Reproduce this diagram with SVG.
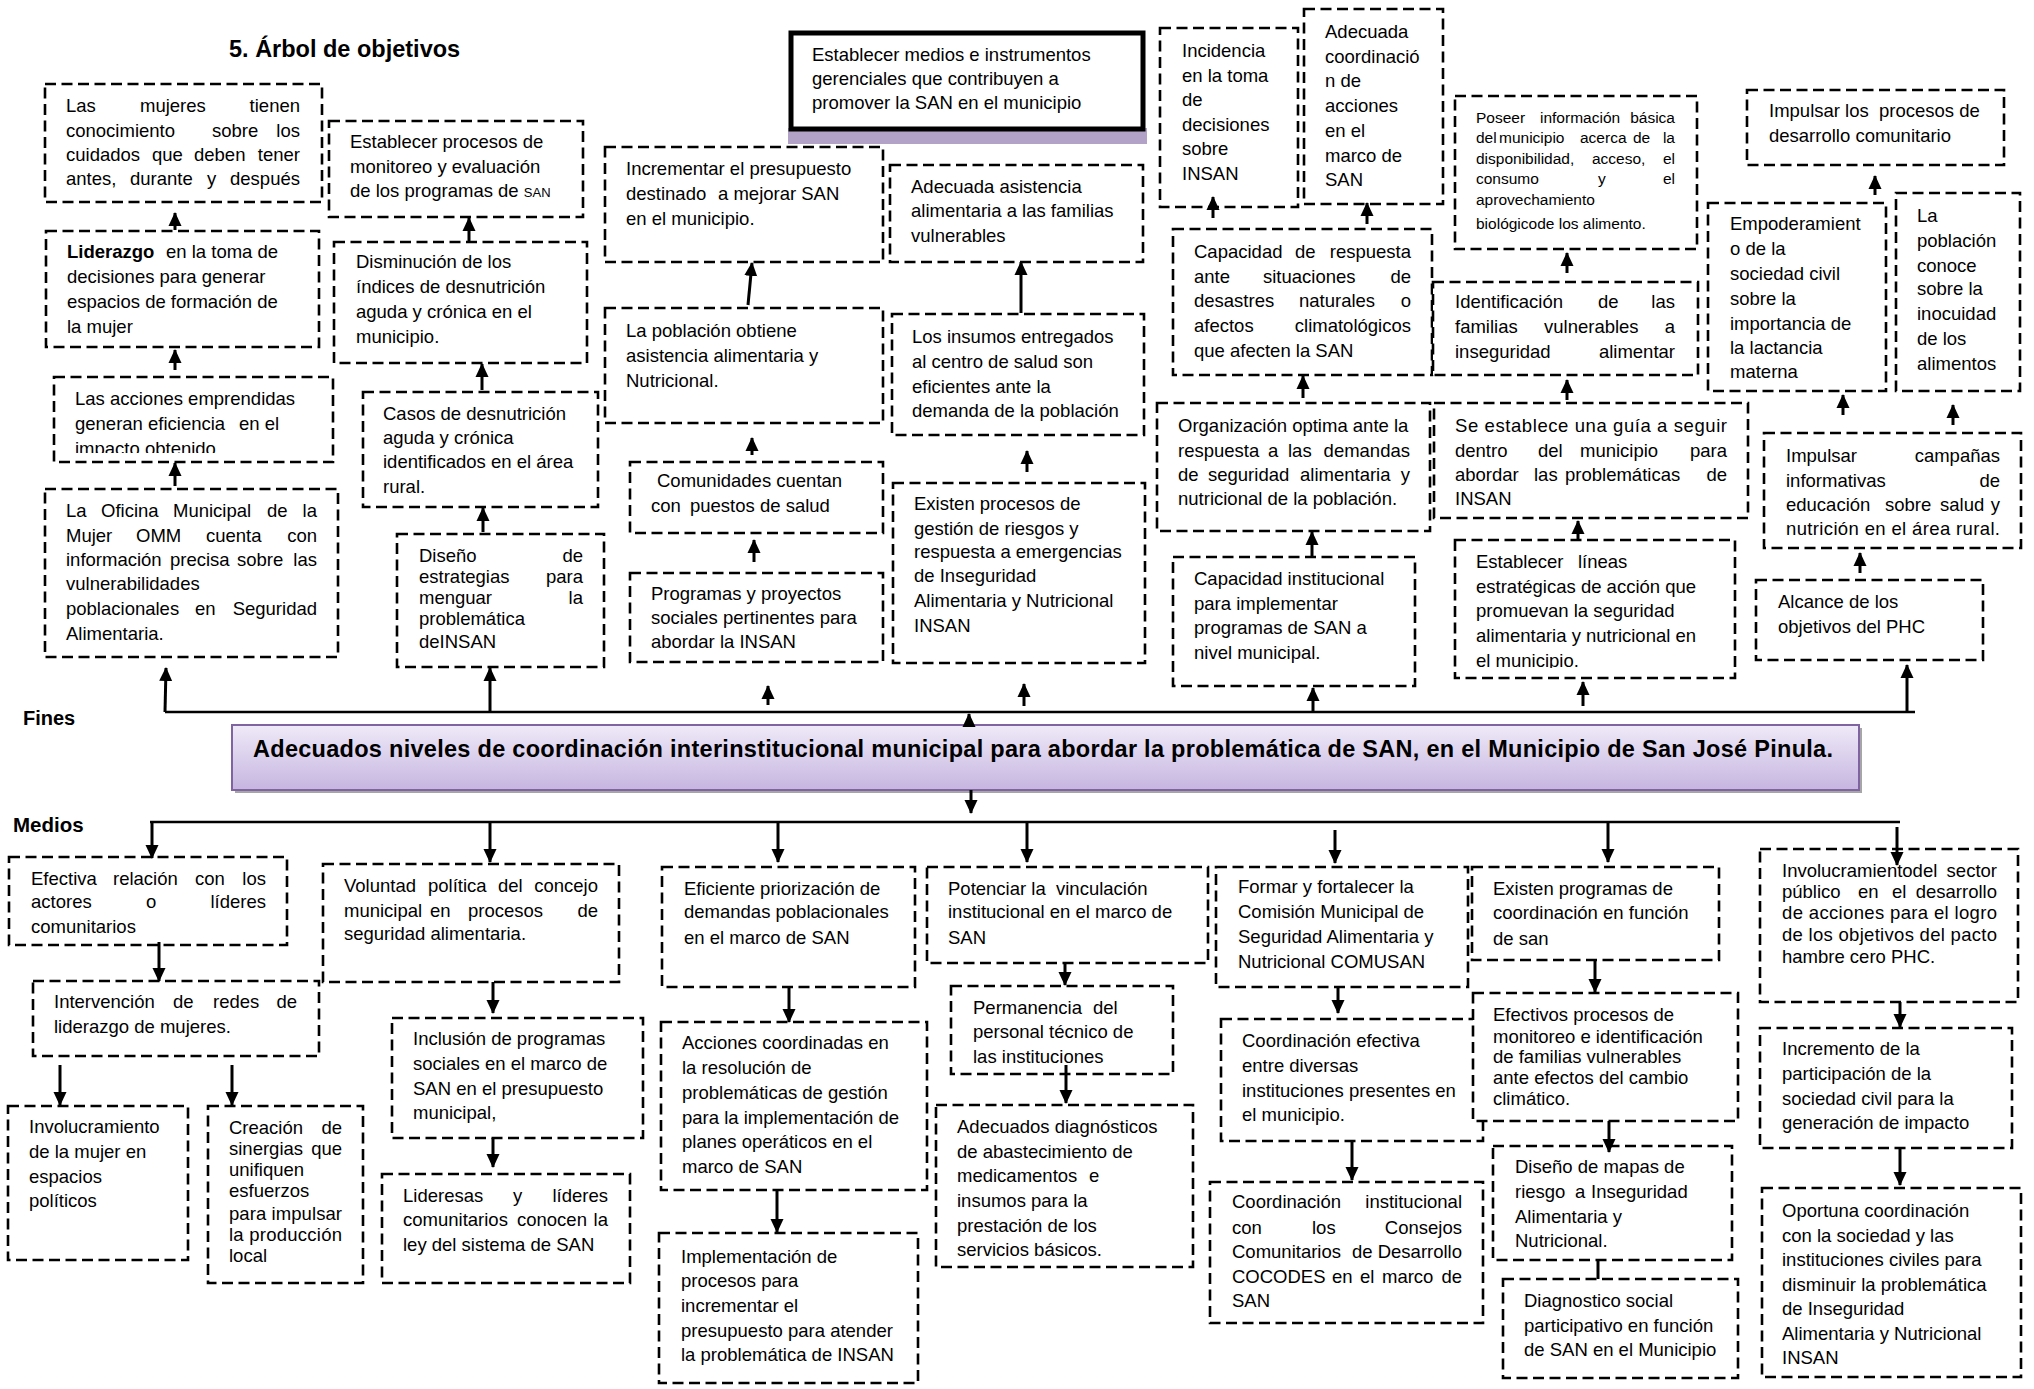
<svg xmlns="http://www.w3.org/2000/svg" width="2034" height="1389" viewBox="0 0 2034 1389">
<defs>
<style>
.b{fill:#fff;stroke:#000;stroke-width:2.6;stroke-dasharray:11 5.5}
.t{font-family:"Liberation Sans",Arial,sans-serif;font-size:18.5px;fill:#000}
.s{font-size:15.5px}
.e{text-anchor:end}
.bo{font-weight:bold}
.h{font-family:"Liberation Sans",Arial,sans-serif;font-weight:bold;fill:#000}
#conn line{stroke:#000;stroke-width:3;fill:none}
#conn .a{marker-end:url(#ah)}
#conn .hub{stroke-width:2.6}
</style>
<marker id="ah" markerUnits="userSpaceOnUse" markerWidth="14" markerHeight="14" refX="13" refY="7" orient="auto"><path d="M0,0.5 L14,7 L0,13.5 z" fill="#000"/></marker>
<linearGradient id="mg" x1="0" y1="0" x2="0" y2="1"><stop offset="0" stop-color="#efeaf8"/><stop offset="1" stop-color="#c6b5e0"/></linearGradient>
<clipPath id="clA3"><rect x="40" y="370" width="300" height="83"/></clipPath>
<clipPath id="clB25"><rect x="1450" y="535" width="290" height="133"/></clipPath>
</defs>
<rect width="2034" height="1389" fill="#fff"/>

<text class="h" x="229" y="57" font-size="23.5">5. Árbol de objetivos</text>
<text class="h" x="23" y="725" font-size="20">Fines</text>
<text class="h" x="13" y="832" font-size="20.5">Medios</text>

<g id="n-top">
<rect x="788" y="128" width="359" height="16" fill="#b3a2c7"/>
<rect x="791" y="33" width="352" height="96" fill="#fff" stroke="#000" stroke-width="5"/>
<text class="t"><tspan x="812" y="61">Establecer medios e instrumentos</tspan><tspan x="812" y="85">gerenciales que contribuyen  a</tspan><tspan x="812" y="109">promover la SAN en el municipio</tspan></text>
</g>

<g id="n-main">
<rect x="235" y="728" width="1627" height="65" fill="#a6a6a6"/>
<rect x="232" y="725" width="1627" height="65" fill="url(#mg)" stroke="#8064a2" stroke-width="2"/>
<text class="h" x="253" y="757" font-size="23.5" textLength="1580" lengthAdjust="spacing">Adecuados  niveles de coordinación interinstitucional municipal para abordar la problemática de SAN, en el Municipio de San José Pinula.</text>
</g>

<g id="n-a1"><rect class="b" x="45" y="84" width="277" height="118"/>
<text class="t"><tspan x="66" y="112">Las</tspan><tspan x="140">mujeres</tspan><tspan class="e" x="300">tienen</tspan><tspan x="66" y="137">conocimiento</tspan><tspan x="212">sobre</tspan><tspan class="e" x="300">los</tspan><tspan x="66" y="161">cuidados</tspan><tspan x="152">que</tspan><tspan x="194">deben</tspan><tspan class="e" x="300">tener</tspan><tspan x="66" y="185">antes,</tspan><tspan x="130">durante</tspan><tspan x="207">y</tspan><tspan class="e" x="300">después</tspan></text></g>

<g id="n-a2"><rect class="b" x="46" y="231" width="273" height="116"/>
<text class="t"><tspan x="67" y="258" class="bo">Liderazgo</tspan><tspan x="166">en la toma de</tspan><tspan x="67" y="283">decisiones para generar</tspan><tspan x="67" y="308">espacios de formación de</tspan><tspan x="67" y="333">la mujer</tspan></text></g>

<g id="n-a3"><rect class="b" x="54" y="377" width="279" height="85"/>
<text class="t" clip-path="url(#clA3)"><tspan x="75" y="405">Las acciones emprendidas</tspan><tspan x="75" y="430">generan eficiencia</tspan><tspan x="239">en el</tspan><tspan x="75" y="455">impacto obtenido</tspan></text></g>

<g id="n-a4"><rect class="b" x="45" y="489" width="293" height="168"/>
<text class="t"><tspan x="66" y="517">La</tspan><tspan x="101">Oficina</tspan><tspan x="173">Municipal</tspan><tspan x="267">de</tspan><tspan class="e" x="317">la</tspan><tspan x="66" y="542">Mujer</tspan><tspan x="136">OMM</tspan><tspan x="206">cuenta</tspan><tspan class="e" x="317">con</tspan><tspan x="66" y="566">información</tspan><tspan x="170">precisa</tspan><tspan x="237">sobre</tspan><tspan class="e" x="317">las</tspan><tspan x="66" y="590">vulnerabilidades</tspan><tspan x="66" y="615">poblacionales</tspan><tspan x="195">en</tspan><tspan class="e" x="317">Seguridad</tspan><tspan x="66" y="640">Alimentaria.</tspan></text></g>

<g id="n-b1"><rect class="b" x="329" y="121" width="254" height="96"/>
<text class="t"><tspan x="350" y="148">Establecer procesos de</tspan><tspan x="350" y="173">monitoreo y evaluación</tspan><tspan x="350" y="197">de los programas de <tspan font-size="13">SAN</tspan></tspan></text></g>

<g id="n-b2"><rect class="b" x="334" y="242" width="253" height="121"/>
<text class="t"><tspan x="356" y="268">Disminución de los</tspan><tspan x="356" y="293">índices de desnutrición</tspan><tspan x="356" y="318">aguda y crónica en el</tspan><tspan x="356" y="343">municipio.</tspan></text></g>

<g id="n-b3"><rect class="b" x="363" y="392" width="235" height="115"/>
<text class="t"><tspan x="383" y="420">Casos de desnutrición</tspan><tspan x="383" y="444">aguda y crónica</tspan><tspan x="383" y="468">identificados en el área</tspan><tspan x="383" y="493">rural.</tspan></text></g>

<g id="n-b4"><rect class="b" x="397" y="534" width="207" height="133"/>
<text class="t"><tspan x="419" y="562">Diseño</tspan><tspan class="e" x="583">de</tspan><tspan x="419" y="583">estrategias</tspan><tspan class="e" x="583">para</tspan><tspan x="419" y="604">menguar</tspan><tspan class="e" x="583">la</tspan><tspan x="419" y="625">problemática</tspan><tspan x="419" y="648">deINSAN</tspan></text></g>

<g id="n-b5"><rect class="b" x="630" y="462" width="253" height="71"/>
<text class="t"><tspan x="657" y="487">Comunidades cuentan</tspan><tspan x="651" y="512">con</tspan><tspan x="690">puestos de salud</tspan></text></g>

<g id="n-b6"><rect class="b" x="630" y="573" width="253" height="89"/>
<text class="t"><tspan x="651" y="600">Programas y proyectos</tspan><tspan x="651" y="624">sociales pertinentes para</tspan><tspan x="651" y="648">abordar la INSAN</tspan></text></g>

<g id="n-b7"><rect class="b" x="605" y="147" width="278" height="115"/>
<text class="t"><tspan x="626" y="175">Incrementar el presupuesto</tspan><tspan x="626" y="200">destinado</tspan><tspan x="718">a mejorar SAN</tspan><tspan x="626" y="225">en el municipio.</tspan></text></g>

<g id="n-b8"><rect class="b" x="605" y="308" width="278" height="115"/>
<text class="t"><tspan x="626" y="337">La población obtiene</tspan><tspan x="626" y="362">asistencia alimentaria y</tspan><tspan x="626" y="387">Nutricional.</tspan></text></g>

<g id="n-b9"><rect class="b" x="890" y="165" width="253" height="97"/>
<text class="t"><tspan x="911" y="193">Adecuada asistencia</tspan><tspan x="911" y="217">alimentaria a las familias</tspan><tspan x="911" y="242">vulnerables</tspan></text></g>

<g id="n-b10"><rect class="b" x="892" y="314" width="252" height="121"/>
<text class="t"><tspan x="912" y="343">Los insumos entregados</tspan><tspan x="912" y="368">al centro de salud son</tspan><tspan x="912" y="393">eficientes ante la</tspan><tspan x="912" y="417">demanda de la población</tspan></text></g>

<g id="n-b11"><rect class="b" x="1160" y="28" width="138" height="179"/>
<text class="t"><tspan x="1182" y="57">Incidencia</tspan><tspan x="1182" y="82">en la toma</tspan><tspan x="1182" y="106">de</tspan><tspan x="1182" y="131">decisiones</tspan><tspan x="1182" y="155">sobre</tspan><tspan x="1182" y="180">INSAN</tspan></text></g>

<g id="n-b12"><rect class="b" x="1304" y="9" width="139" height="195"/>
<text class="t"><tspan x="1325" y="38">Adecuada</tspan><tspan x="1325" y="63">coordinació</tspan><tspan x="1325" y="87">n de</tspan><tspan x="1325" y="112">acciones</tspan><tspan x="1325" y="137">en el</tspan><tspan x="1325" y="162">marco de</tspan><tspan x="1325" y="186">SAN</tspan></text></g>

<g id="n-b13"><rect class="b" x="1173" y="229" width="259" height="146"/>
<text class="t"><tspan x="1194" y="258">Capacidad</tspan><tspan x="1295">de</tspan><tspan class="e" x="1411">respuesta</tspan><tspan x="1194" y="283">ante</tspan><tspan x="1263">situaciones</tspan><tspan class="e" x="1411">de</tspan><tspan x="1194" y="307">desastres</tspan><tspan x="1299">naturales</tspan><tspan class="e" x="1411">o</tspan><tspan x="1194" y="332">afectos</tspan><tspan class="e" x="1411">climatológicos</tspan><tspan x="1194" y="357">que afecten la SAN</tspan></text></g>

<g id="n-b14"><rect class="b" x="1157" y="403" width="273" height="128"/>
<text class="t"><tspan x="1178" y="432">Organización optima ante la</tspan><tspan x="1178" y="457">respuesta</tspan><tspan x="1268">a</tspan><tspan x="1288">las</tspan><tspan class="e" x="1410">demandas</tspan><tspan x="1178" y="481">de</tspan><tspan x="1208">seguridad</tspan><tspan x="1300">alimentaria</tspan><tspan class="e" x="1410">y</tspan><tspan x="1178" y="505">nutricional de la población.</tspan></text></g>

<g id="n-b15"><rect class="b" x="1455" y="96" width="242" height="153"/>
<text class="t s"><tspan x="1476" y="122.5">Poseer</tspan><tspan x="1540">información</tspan><tspan class="e" x="1675">básica</tspan><tspan x="1476" y="143">del</tspan><tspan x="1499">municipio</tspan><tspan x="1580">acerca</tspan><tspan x="1633">de</tspan><tspan class="e" x="1675">la</tspan><tspan x="1476" y="163.5">disponibilidad,</tspan><tspan x="1592">acceso,</tspan><tspan class="e" x="1675">el</tspan><tspan x="1476" y="184">consumo</tspan><tspan x="1598">y</tspan><tspan class="e" x="1675">el</tspan><tspan x="1476" y="205">aprovechamiento</tspan><tspan x="1476" y="229">biológicode los alimento.</tspan></text></g>

<g id="n-b16"><rect class="b" x="1433" y="282" width="265" height="93"/>
<text class="t"><tspan x="1455" y="308">Identificación</tspan><tspan x="1598">de</tspan><tspan class="e" x="1675">las</tspan><tspan x="1455" y="333">familias</tspan><tspan x="1544">vulnerables</tspan><tspan class="e" x="1675">a</tspan><tspan x="1455" y="358">inseguridad</tspan><tspan class="e" x="1675">alimentar</tspan></text></g>

<g id="n-b17"><rect class="b" x="1434" y="403" width="314" height="115"/>
<text class="t" x="1455" y="432" textLength="272" lengthAdjust="spacing">Se establece una guía a seguir</text>
<text class="t"><tspan x="1455" y="457">dentro</tspan><tspan x="1538">del</tspan><tspan x="1580">municipio</tspan><tspan class="e" x="1727">para</tspan><tspan x="1455" y="481">abordar</tspan><tspan x="1534">las</tspan><tspan x="1565">problemáticas</tspan><tspan class="e" x="1727">de</tspan><tspan x="1455" y="505">INSAN</tspan></text></g>

<g id="n-b18"><rect class="b" x="1747" y="90" width="257" height="75"/>
<text class="t"><tspan x="1769" y="117">Impulsar los</tspan><tspan x="1879">procesos de</tspan><tspan x="1769" y="142">desarrollo comunitario</tspan></text></g>

<g id="n-b19"><rect class="b" x="1708" y="203" width="178" height="188"/>
<text class="t"><tspan x="1730" y="230">Empoderamient</tspan><tspan x="1730" y="255">o de la</tspan><tspan x="1730" y="280">sociedad civil</tspan><tspan x="1730" y="305">sobre la</tspan><tspan x="1730" y="330">importancia de</tspan><tspan x="1730" y="354">la lactancia</tspan><tspan x="1730" y="378">materna</tspan></text></g>

<g id="n-b20"><rect class="b" x="1896" y="193" width="124" height="198"/>
<text class="t"><tspan x="1917" y="222">La</tspan><tspan x="1917" y="247">población</tspan><tspan x="1917" y="272">conoce</tspan><tspan x="1917" y="295">sobre la</tspan><tspan x="1917" y="320">inocuidad</tspan><tspan x="1917" y="345">de los</tspan><tspan x="1917" y="370">alimentos</tspan></text></g>

<g id="n-b21"><rect class="b" x="1764" y="433" width="257" height="115"/>
<text class="t"><tspan x="1786" y="462">Impulsar</tspan><tspan class="e" x="2000">campañas</tspan><tspan x="1786" y="487">informativas</tspan><tspan class="e" x="2000">de</tspan><tspan x="1786" y="511">educación</tspan><tspan x="1885">sobre</tspan><tspan x="1940">salud</tspan><tspan class="e" x="2000">y</tspan></text>
<text class="t" x="1786" y="535" textLength="214" lengthAdjust="spacing">nutrición en el área rural.</text></g>

<g id="n-b22"><rect class="b" x="1756" y="580" width="227" height="80"/>
<text class="t"><tspan x="1778" y="608">Alcance de los</tspan><tspan x="1778" y="633">objetivos del PHC</tspan></text></g>

<g id="n-b23"><rect class="b" x="893" y="483" width="252" height="180"/>
<text class="t"><tspan x="914" y="510">Existen procesos de</tspan><tspan x="914" y="535">gestión de riesgos y</tspan><tspan x="914" y="558">respuesta a emergencias</tspan><tspan x="914" y="582">de Inseguridad</tspan><tspan x="914" y="607">Alimentaria y Nutricional</tspan><tspan x="914" y="632">INSAN</tspan></text></g>

<g id="n-b24"><rect class="b" x="1173" y="557" width="242" height="129"/>
<text class="t"><tspan x="1194" y="585">Capacidad institucional</tspan><tspan x="1194" y="610">para implementar</tspan><tspan x="1194" y="634">programas de SAN a</tspan><tspan x="1194" y="659">nivel municipal.</tspan></text></g>

<g id="n-b25"><rect class="b" x="1455" y="540" width="280" height="138"/>
<text class="t" clip-path="url(#clB25)"><tspan x="1476" y="568">Establecer</tspan><tspan x="1578">líneas</tspan><tspan x="1476" y="593">estratégicas de acción que</tspan><tspan x="1476" y="617">promuevan la seguridad</tspan><tspan x="1476" y="642">alimentaria y nutricional en</tspan><tspan x="1476" y="667">el municipio.</tspan></text></g>

<g id="n-c1"><rect class="b" x="9" y="857" width="278" height="88"/>
<text class="t"><tspan x="31" y="885">Efectiva</tspan><tspan x="113">relación</tspan><tspan x="195">con</tspan><tspan class="e" x="266">los</tspan><tspan x="31" y="908">actores</tspan><tspan x="146">o</tspan><tspan class="e" x="266">líderes</tspan><tspan x="31" y="933">comunitarios</tspan></text></g>

<g id="n-c2"><rect class="b" x="323" y="864" width="296" height="118"/>
<text class="t"><tspan x="344" y="892">Voluntad</tspan><tspan x="428">política</tspan><tspan x="498">del</tspan><tspan class="e" x="598">concejo</tspan><tspan x="344" y="917">municipal</tspan><tspan x="430">en</tspan><tspan x="468">procesos</tspan><tspan class="e" x="598">de</tspan><tspan x="344" y="940">seguridad alimentaria.</tspan></text></g>

<g id="n-c3"><rect class="b" x="662" y="867" width="253" height="120"/>
<text class="t"><tspan x="684" y="895">Eficiente priorización de</tspan><tspan x="684" y="918">demandas poblacionales</tspan><tspan x="684" y="944">en el marco de SAN</tspan></text></g>

<g id="n-c4"><rect class="b" x="927" y="867" width="281" height="96"/>
<text class="t"><tspan x="948" y="895">Potenciar la</tspan><tspan x="1056">vinculación</tspan><tspan x="948" y="918">institucional en el marco de</tspan><tspan x="948" y="944">SAN</tspan></text></g>

<g id="n-c5"><rect class="b" x="1216" y="867" width="252" height="120"/>
<text class="t"><tspan x="1238" y="893">Formar y fortalecer la</tspan><tspan x="1238" y="918">Comisión Municipal de</tspan><tspan x="1238" y="943">Seguridad Alimentaria y</tspan><tspan x="1238" y="968">Nutricional COMUSAN</tspan></text></g>

<g id="n-c6"><rect class="b" x="1472" y="867" width="247" height="93"/>
<text class="t"><tspan x="1493" y="895">Existen programas de</tspan><tspan x="1493" y="919">coordinación en función</tspan><tspan x="1493" y="945">de san</tspan></text></g>

<g id="n-c7"><rect class="b" x="1760" y="849" width="258" height="153"/>
<text class="t"><tspan x="1782" y="877">Involucramientodel</tspan><tspan class="e" x="1997">sector</tspan><tspan x="1782" y="898">público</tspan><tspan x="1858">en</tspan><tspan x="1892">el</tspan><tspan class="e" x="1997">desarrollo</tspan><tspan x="1782" y="963">hambre cero PHC.</tspan></text>
<text class="t" x="1782" y="919" textLength="215" lengthAdjust="spacing">de acciones para el logro</text>
<text class="t" x="1782" y="941" textLength="215" lengthAdjust="spacing">de los objetivos del pacto</text></g>

<g id="n-c8"><rect class="b" x="33" y="981" width="286" height="75"/>
<text class="t"><tspan x="54" y="1008">Intervención</tspan><tspan x="173">de</tspan><tspan x="213">redes</tspan><tspan class="e" x="297">de</tspan><tspan x="54" y="1033">liderazgo de mujeres.</tspan></text></g>

<g id="n-c9"><rect class="b" x="8" y="1106" width="180" height="154"/>
<text class="t"><tspan x="29" y="1133">Involucramiento</tspan><tspan x="29" y="1158">de la mujer en</tspan><tspan x="29" y="1183">espacios</tspan><tspan x="29" y="1207">políticos</tspan></text></g>

<g id="n-c10"><rect class="b" x="208" y="1106" width="155" height="177"/>
<text class="t"><tspan x="229" y="1134">Creación</tspan><tspan class="e" x="342">de</tspan><tspan x="229" y="1155">sinergias</tspan><tspan class="e" x="342">que</tspan><tspan x="229" y="1176">unifiquen</tspan><tspan x="229" y="1197">esfuerzos</tspan><tspan x="229" y="1262">local</tspan></text>
<text class="t" x="229" y="1220" textLength="113" lengthAdjust="spacing">para impulsar</text>
<text class="t" x="229" y="1241" textLength="113" lengthAdjust="spacing">la producción</text></g>

<g id="n-c11"><rect class="b" x="392" y="1018" width="251" height="120"/>
<text class="t"><tspan x="413" y="1045">Inclusión de programas</tspan><tspan x="413" y="1070">sociales en el marco de</tspan><tspan x="413" y="1095">SAN en el presupuesto</tspan><tspan x="413" y="1119">municipal,</tspan></text></g>

<g id="n-c12"><rect class="b" x="382" y="1174" width="248" height="109"/>
<text class="t"><tspan x="403" y="1202">Lideresas</tspan><tspan x="513">y</tspan><tspan class="e" x="608">líderes</tspan><tspan x="403" y="1226">comunitarios</tspan><tspan x="517">conocen</tspan><tspan class="e" x="608">la</tspan><tspan x="403" y="1251">ley del sistema de SAN</tspan></text></g>

<g id="n-c13"><rect class="b" x="661" y="1022" width="266" height="168"/>
<text class="t"><tspan x="682" y="1049">Acciones coordinadas en</tspan><tspan x="682" y="1074">la resolución de</tspan><tspan x="682" y="1099">problemáticas de gestión</tspan><tspan x="682" y="1124">para la implementación de</tspan><tspan x="682" y="1148">planes operáticos en el</tspan><tspan x="682" y="1173">marco de SAN</tspan></text></g>

<g id="n-c14"><rect class="b" x="659" y="1233" width="259" height="150"/>
<text class="t"><tspan x="681" y="1263">Implementación de</tspan><tspan x="681" y="1287">procesos para</tspan><tspan x="681" y="1312">incrementar el</tspan><tspan x="681" y="1337">presupuesto para atender</tspan><tspan x="681" y="1361">la problemática de INSAN</tspan></text></g>

<g id="n-c15"><rect class="b" x="951" y="986" width="222" height="88"/>
<text class="t"><tspan x="973" y="1014">Permanencia</tspan><tspan x="1093">del</tspan><tspan x="973" y="1038">personal técnico de</tspan><tspan x="973" y="1063">las instituciones</tspan></text></g>

<g id="n-c16"><rect class="b" x="936" y="1105" width="257" height="162"/>
<text class="t"><tspan x="957" y="1133">Adecuados diagnósticos</tspan><tspan x="957" y="1158">de abastecimiento de</tspan><tspan x="957" y="1182">medicamentos</tspan><tspan x="1089">e</tspan><tspan x="957" y="1207">insumos para la</tspan><tspan x="957" y="1232">prestación de los</tspan><tspan x="957" y="1256">servicios básicos.</tspan></text></g>

<g id="n-c17"><rect class="b" x="1221" y="1019" width="262" height="122"/>
<text class="t"><tspan x="1242" y="1047">Coordinación efectiva</tspan><tspan x="1242" y="1072">entre diversas</tspan><tspan x="1242" y="1097">instituciones presentes en</tspan><tspan x="1242" y="1121">el municipio.</tspan></text></g>

<g id="n-c18"><rect class="b" x="1210" y="1182" width="273" height="141"/>
<text class="t"><tspan x="1232" y="1208">Coordinación</tspan><tspan class="e" x="1462">institucional</tspan><tspan x="1232" y="1234">con</tspan><tspan x="1312">los</tspan><tspan class="e" x="1462">Consejos</tspan><tspan x="1232" y="1258">Comunitarios</tspan><tspan x="1352">de</tspan><tspan class="e" x="1462">Desarrollo</tspan><tspan x="1232" y="1283">COCODES</tspan><tspan x="1332">en</tspan><tspan x="1360">el</tspan><tspan x="1382">marco</tspan><tspan class="e" x="1462">de</tspan><tspan x="1232" y="1307">SAN</tspan></text></g>

<g id="n-c19"><rect class="b" x="1473" y="993" width="265" height="128"/>
<text class="t"><tspan x="1493" y="1021">Efectivos procesos de</tspan><tspan x="1493" y="1043">monitoreo e identificación</tspan><tspan x="1493" y="1063">de familias vulnerables</tspan><tspan x="1493" y="1084">ante efectos del cambio</tspan><tspan x="1493" y="1105">climático.</tspan></text></g>

<g id="n-c20"><rect class="b" x="1493" y="1146" width="239" height="114"/>
<text class="t"><tspan x="1515" y="1173">Diseño de mapas de</tspan><tspan x="1515" y="1198">riesgo</tspan><tspan x="1575">a</tspan><tspan x="1591">Inseguridad</tspan><tspan x="1515" y="1223">Alimentaria y</tspan><tspan x="1515" y="1247">Nutricional.</tspan></text></g>

<g id="n-c21"><rect class="b" x="1503" y="1279" width="235" height="99"/>
<text class="t"><tspan x="1524" y="1307">Diagnostico social</tspan><tspan x="1524" y="1332">participativo en función</tspan><tspan x="1524" y="1356">de SAN en el Municipio</tspan></text></g>

<g id="n-c22"><rect class="b" x="1760" y="1028" width="252" height="120"/>
<text class="t"><tspan x="1782" y="1055">Incremento de la</tspan><tspan x="1782" y="1080">participación de la</tspan><tspan x="1782" y="1105">sociedad civil para la</tspan><tspan x="1782" y="1129">generación de impacto</tspan></text></g>

<g id="n-c23"><rect class="b" x="1762" y="1188" width="259" height="189"/>
<text class="t"><tspan x="1782" y="1217">Oportuna coordinación</tspan><tspan x="1782" y="1242">con la sociedad y las</tspan><tspan x="1782" y="1266">instituciones civiles para</tspan><tspan x="1782" y="1291">disminuir la problemática</tspan><tspan x="1782" y="1315">de Inseguridad</tspan><tspan x="1782" y="1340">Alimentaria y Nutricional</tspan><tspan x="1782" y="1364">INSAN</tspan></text></g>

<g id="conn">
<line class="hub" x1="165" y1="712" x2="1915" y2="712"/>
<line class="hub" x1="150" y1="822" x2="1900" y2="822"/>
<line class="a" x1="175" y1="230" x2="175" y2="213"/>
<line class="a" x1="175" y1="370" x2="175" y2="350"/>
<line class="a" x1="175" y1="486" x2="175" y2="463"/>
<line class="a" x1="165" y1="712" x2="166" y2="668"/>
<line class="a" x1="469" y1="241" x2="469" y2="218"/>
<line class="a" x1="482" y1="390" x2="482" y2="364"/>
<line class="a" x1="483" y1="532" x2="483" y2="508"/>
<line class="a" x1="490" y1="712" x2="490" y2="668"/>
<line class="a" x1="748" y1="305" x2="752" y2="263"/>
<line class="a" x1="752" y1="455" x2="752" y2="438"/>
<line class="a" x1="754" y1="562" x2="754" y2="540"/>
<line class="a" x1="768" y1="705" x2="768" y2="686"/>
<line class="a" x1="969" y1="727" x2="969" y2="714"/>
<line class="a" x1="1024" y1="706" x2="1024" y2="684"/>
<line class="a" x1="1027" y1="472" x2="1027" y2="451"/>
<line class="a" x1="1021" y1="313" x2="1021" y2="262"/>
<line class="a" x1="1313" y1="712" x2="1313" y2="688"/>
<line class="a" x1="1312" y1="557" x2="1312" y2="532"/>
<line class="a" x1="1303" y1="398" x2="1303" y2="376"/>
<line class="a" x1="1213" y1="218" x2="1213" y2="197"/>
<line class="a" x1="1367" y1="224" x2="1367" y2="203"/>
<line class="a" x1="1583" y1="706" x2="1583" y2="682"/>
<line class="a" x1="1578" y1="540" x2="1578" y2="521"/>
<line class="a" x1="1567" y1="400" x2="1567" y2="380"/>
<line class="a" x1="1567" y1="273" x2="1567" y2="253"/>
<line class="a" x1="1907" y1="712" x2="1907" y2="665"/>
<line class="a" x1="1860" y1="573" x2="1860" y2="553"/>
<line class="a" x1="1843" y1="415" x2="1843" y2="395"/>
<line class="a" x1="1953" y1="425" x2="1953" y2="405"/>
<line class="a" x1="1875" y1="195" x2="1875" y2="176"/>
<line class="a" x1="971" y1="790" x2="971" y2="813"/>
<line class="a" x1="152" y1="822" x2="152" y2="858"/>
<line class="a" x1="490" y1="822" x2="490" y2="862"/>
<line class="a" x1="778" y1="822" x2="778" y2="862"/>
<line class="a" x1="1027" y1="822" x2="1027" y2="862"/>
<line class="a" x1="1335" y1="830" x2="1335" y2="863"/>
<line class="a" x1="1608" y1="822" x2="1608" y2="862"/>
<line class="a" x1="1897" y1="827" x2="1897" y2="865"/>
<line class="a" x1="159" y1="942" x2="159" y2="981"/>
<line class="a" x1="60" y1="1065" x2="60" y2="1105"/>
<line class="a" x1="232" y1="1065" x2="232" y2="1105"/>
<line class="a" x1="493" y1="982" x2="493" y2="1013"/>
<line class="a" x1="493" y1="1138" x2="493" y2="1167"/>
<line class="a" x1="789" y1="987" x2="789" y2="1022"/>
<line class="a" x1="777" y1="1190" x2="777" y2="1232"/>
<line class="a" x1="1065" y1="963" x2="1065" y2="985"/>
<line class="a" x1="1066" y1="1065" x2="1066" y2="1103"/>
<line class="a" x1="1338" y1="987" x2="1338" y2="1013"/>
<line class="a" x1="1352" y1="1141" x2="1352" y2="1180"/>
<line class="a" x1="1595" y1="960" x2="1595" y2="992"/>
<line class="a" x1="1609" y1="1121" x2="1609" y2="1152"/>
<line x1="1598" y1="1260" x2="1598" y2="1279"/>
<line class="a" x1="1900" y1="1002" x2="1900" y2="1027"/>
<line class="a" x1="1900" y1="1148" x2="1900" y2="1185"/>
</g>
</svg>
